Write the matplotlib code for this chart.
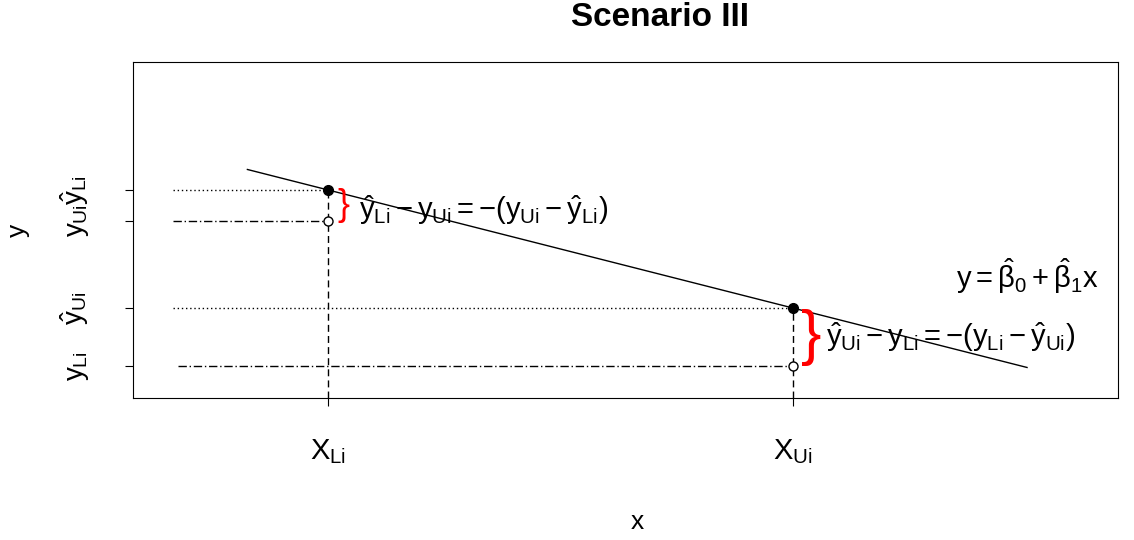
import numpy as np
import matplotlib.pyplot as plt

plt.rcParams['font.family'] = 'Liberation Sans'
plt.rcParams['mathtext.fontset'] = 'custom'
plt.rcParams['mathtext.rm'] = 'Liberation Sans'
plt.rcParams['mathtext.it'] = 'Liberation Sans'
plt.rcParams['mathtext.bf'] = 'Liberation Sans:bold'

# design points and responses (arbitrary units)
x_lower = 1.0
x_upper = 4.0
yhat_lower = 7.07   # fitted value at X_Li
y_upper = 6.0       # observed y_Ui
yhat_upper = 3.0    # fitted value at X_Ui
y_lower = 1.0       # observed y_Li
line_x = np.array([0.48, 5.51])
guide_start = 0.0

xtick_pos = [x_lower, x_upper]
xtick_labels = [r'$X_{Li}$', r'$X_{Ui}$']
ytick_pos = [y_lower, yhat_upper, y_upper, yhat_lower]
ytick_labels = [r'$y_{Li}$', r'$\hat{y}_{Ui}$', r'$y_{Ui}$', r'$\hat{y}_{Li}$']

# fitted line through the two fitted points
beta1 = (yhat_upper - yhat_lower) / (x_upper - x_lower)
beta0 = yhat_lower - beta1 * x_lower
fit = lambda x: beta0 + beta1 * x

fig = plt.figure(figsize=(11.34, 5.4), dpi=100)
ax = fig.add_axes([0.1173, 0.263, 0.8686, 0.6222])
ax.set_xlim(-0.258, 6.097)
ax.set_ylim(-0.10, 11.48)
bottom = ax.get_ylim()[0]

ax.plot(line_x, fit(line_x), 'k-', lw=1)

# guide lines
ax.plot([guide_start, x_lower], [yhat_lower, yhat_lower], 'k', ls=(0, (1, 2)), lw=1)
ax.plot([guide_start, x_lower], [y_upper, y_upper], 'k', ls=(0, (6, 2, 1, 2)), lw=1)
ax.plot([guide_start, x_upper], [yhat_upper, yhat_upper], 'k', ls=(0, (1, 2)), lw=1)
ax.plot([guide_start + 0.03, x_upper], [y_lower, y_lower], 'k', ls=(0, (6, 2, 1, 2)), lw=1)
ax.plot([x_lower, x_lower], [bottom, yhat_lower], 'k', ls=(0, (5, 3)), lw=1)
ax.plot([x_upper, x_upper], [bottom, yhat_upper], 'k', ls=(0, (5, 3)), lw=1)

# points
ax.plot([x_lower, x_upper], [yhat_lower, yhat_upper], 'ko', ms=7)
ax.plot([x_lower, x_upper], [y_upper, y_lower], 'o', mfc='white', mec='black', ms=6.5)

# braces
ax.text(x_lower + 0.1, (yhat_lower + y_upper) / 2, '}', color='red', fontsize=26,
        ha='center', va='center')
ax.text(x_upper + 0.12, (yhat_upper + y_lower) / 2, '}', color='red', fontsize=44,
        ha='center', va='center')

fs = 21
ax.text(1.2, 6.38, r'$\hat{y}_{Li} - y_{Ui} = -(y_{Ui} - \hat{y}_{Li})$', fontsize=fs,
        ha='left', va='center')
ax.text(4.21, 2.0, r'$\hat{y}_{Ui} - y_{Li} = -(y_{Li} - \hat{y}_{Ui})$', fontsize=fs,
        ha='left', va='center')
ax.text(5.05, 4.1, r'$y = \hat{\beta}_0 + \hat{\beta}_1 x$', fontsize=fs,
        ha='left', va='center')

ax.set_xticks(xtick_pos)
ax.set_xticklabels(xtick_labels, fontsize=21)
ax.set_yticks(ytick_pos)
ax.set_yticklabels(ytick_labels, fontsize=20, rotation=90, va='center')
ax.tick_params(axis='x', length=6, pad=22)
ax.tick_params(axis='y', length=6, pad=24)

fig.text(660 / 1134, 1 - 18 / 540, 'Scenario III', fontsize=24, fontweight='bold',
         ha='center', va='center')
ax.set_xlabel('x', fontsize=19)
ax.xaxis.set_label_coords((637 - 133) / 985, -(522 - 398) / 336)
ax.xaxis.label.set_va('center')
ax.set_ylabel('y', fontsize=19)
ax.yaxis.set_label_coords(-(133 - 18) / 985, 0.5)
ax.yaxis.label.set_va('center')

fig.savefig('out.png', dpi=100)
